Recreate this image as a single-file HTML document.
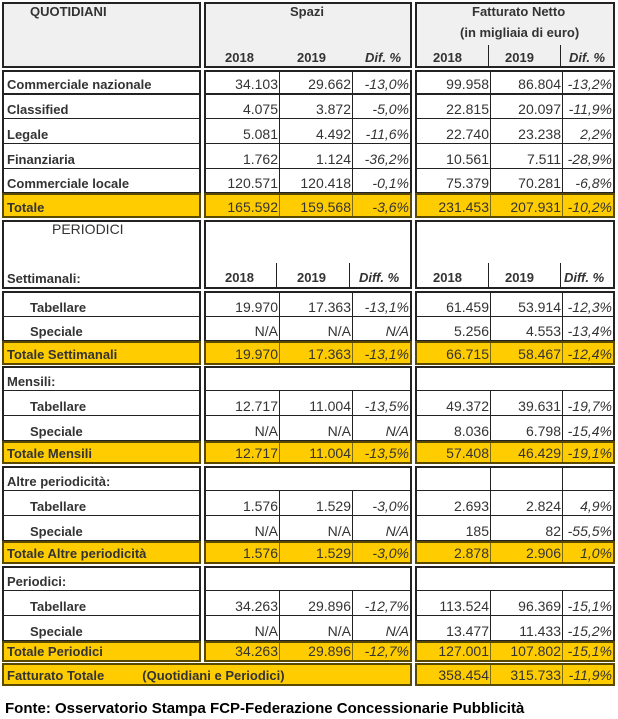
<!DOCTYPE html>
<html><head><meta charset="utf-8">
<style>
*{box-sizing:border-box;margin:0;padding:0}
body{width:618px;height:719px;background:#fff;position:relative;font-family:"Liberation Sans",Arial,sans-serif;color:#333;overflow:hidden}
.r{position:absolute;left:2px;width:614px;display:flex;gap:3px}
.l{width:199px;border:2px solid #222;border-top-width:1px;border-bottom-width:1px;font-weight:bold;font-size:13px;display:flex;align-items:flex-end;padding:0 0 1px 3px;white-space:nowrap}
.g{display:flex;border:2px solid #222;border-top-width:1px;border-bottom-width:1px}
.g1{width:208px}.g2{width:200px}
.g>*{border-left:1px solid #222;display:flex;align-items:flex-end;justify-content:flex-end;font-size:14px;padding:0 1px 1px 0;font-style:normal}
.g>*:first-child{border-left:none}
.g1>*:nth-child(1){width:73px}.g1>*:nth-child(2){width:73px}.g1>*:nth-child(3){width:58px}
.g2>*:nth-child(1){width:73px}.g2>*:nth-child(2){width:72px}.g2>*:nth-child(3){width:51px}
.g>i{font-style:italic}
.t .l,.t .g{background:#ffcc00;border-color:#5a4a00}
.t .g>*{border-color:#7a6a10}
.t .l{font-weight:bold;color:#333}
.ind{padding-left:26px}
.abs{position:absolute;font-size:13px;font-weight:bold}
.top .l,.top .g{border-top-width:2px}
.bot .l,.bot .g{border-bottom-width:2px}
</style></head><body>

<div class="r top bot" style="top:2px;height:66px">
 <div class="l" style="background:#f0f0f0"></div>
 <div class="g g1" style="background:#f0f0f0"></div>
 <div class="g g2" style="background:#f0f0f0"></div>
</div>
<div class="abs" style="left:30px;top:4px">QUOTIDIANI</div>
<div class="abs" style="left:290px;top:4px">Spazi</div>
<div class="abs" style="left:472px;top:4px">Fatturato Netto</div>
<div class="abs" style="left:460px;top:25px">(in migliaia di euro)</div>
<div class="abs" style="left:225px;top:50px">2018</div>
<div class="abs" style="left:297px;top:50px">2019</div>
<div class="abs" style="left:365px;top:50px;font-style:italic">Dif. %</div>
<div class="abs" style="left:433px;top:50px">2018</div>
<div class="abs" style="left:505px;top:50px">2019</div>
<div class="abs" style="left:569px;top:50px;font-style:italic">Dif. %</div>
<div style="position:absolute;left:488px;top:45px;width:1px;height:21px;background:#222"></div>
<div style="position:absolute;left:560px;top:45px;width:1px;height:21px;background:#222"></div>

<div class="r top" style="top:70px;height:24px"><div class="l">Commerciale nazionale</div><div class="g g1"><span>34.103</span><span>29.662</span><i>-13,0%</i></div><div class="g g2"><span>99.958</span><span>86.804</span><i>-13,2%</i></div></div>
<div class="r" style="top:94px;height:25px"><div class="l">Classified</div><div class="g g1"><span>4.075</span><span>3.872</span><i>-5,0%</i></div><div class="g g2"><span>22.815</span><span>20.097</span><i>-11,9%</i></div></div>
<div class="r" style="top:118px;height:26px"><div class="l">Legale</div><div class="g g1"><span>5.081</span><span>4.492</span><i>-11,6%</i></div><div class="g g2"><span>22.740</span><span>23.238</span><i>2,2%</i></div></div>
<div class="r" style="top:143px;height:26px"><div class="l">Finanziaria</div><div class="g g1"><span>1.762</span><span>1.124</span><i>-36,2%</i></div><div class="g g2"><span>10.561</span><span>7.511</span><i>-28,9%</i></div></div>
<div class="r" style="top:168px;height:25px"><div class="l">Commerciale locale</div><div class="g g1"><span>120.571</span><span>120.418</span><i>-0,1%</i></div><div class="g g2"><span>75.379</span><span>70.281</span><i>-6,8%</i></div></div>
<div class="r t top bot" style="top:193px;height:25px"><div class="l">Totale</div><div class="g g1"><span>165.592</span><span>159.568</span><i>-3,6%</i></div><div class="g g2"><span>231.453</span><span>207.931</span><i>-10,2%</i></div></div>

<div class="r top bot" style="top:220px;height:69px"><div class="l">Settimanali:</div><div class="g g1"></div><div class="g g2"></div></div>
<div class="abs" style="left:52px;top:221px;font-weight:normal;font-size:14px">PERIODICI</div>
<div class="abs" style="left:225px;top:270px">2018</div>
<div class="abs" style="left:297px;top:270px">2019</div>
<div class="abs" style="left:359px;top:270px;font-style:italic">Diff. %</div>
<div class="abs" style="left:433px;top:270px">2018</div>
<div class="abs" style="left:505px;top:270px">2019</div>
<div class="abs" style="left:564px;top:270px;font-style:italic">Diff. %</div>
<div style="position:absolute;left:276px;top:263px;width:1px;height:24px;background:#222"></div>
<div style="position:absolute;left:349px;top:263px;width:1px;height:24px;background:#222"></div>
<div style="position:absolute;left:488px;top:263px;width:1px;height:24px;background:#222"></div>
<div style="position:absolute;left:560px;top:263px;width:1px;height:24px;background:#222"></div>

<div class="r top" style="top:291px;height:26px"><div class="l ind">Tabellare</div><div class="g g1"><span>19.970</span><span>17.363</span><i>-13,1%</i></div><div class="g g2"><span>61.459</span><span>53.914</span><i>-12,3%</i></div></div>
<div class="r" style="top:316px;height:25px"><div class="l ind">Speciale</div><div class="g g1"><span>N/A</span><span>N/A</span><i>N/A</i></div><div class="g g2"><span>5.256</span><span>4.553</span><i>-13,4%</i></div></div>
<div class="r t top bot" style="top:341px;height:24px"><div class="l">Totale Settimanali</div><div class="g g1"><span>19.970</span><span>17.363</span><i>-13,1%</i></div><div class="g g2"><span>66.715</span><span>58.467</span><i>-12,4%</i></div></div>

<div class="r top" style="top:366px;height:25px"><div class="l">Mensili:</div><div class="g g1"></div><div class="g g2"></div></div>
<div class="r" style="top:390px;height:26px"><div class="l ind">Tabellare</div><div class="g g1"><span>12.717</span><span>11.004</span><i>-13,5%</i></div><div class="g g2"><span>49.372</span><span>39.631</span><i>-19,7%</i></div></div>
<div class="r" style="top:415px;height:26px"><div class="l ind">Speciale</div><div class="g g1"><span>N/A</span><span>N/A</span><i>N/A</i></div><div class="g g2"><span>8.036</span><span>6.798</span><i>-15,4%</i></div></div>
<div class="r t top bot" style="top:441px;height:23px"><div class="l">Totale Mensili</div><div class="g g1"><span>12.717</span><span>11.004</span><i>-13,5%</i></div><div class="g g2"><span>57.408</span><span>46.429</span><i>-19,1%</i></div></div>

<div class="r top" style="top:466px;height:25px"><div class="l">Altre periodicità:</div><div class="g g1"></div><div class="g g2"><span></span><span></span><i></i></div></div>
<div class="r" style="top:490px;height:26px"><div class="l ind">Tabellare</div><div class="g g1"><span>1.576</span><span>1.529</span><i>-3,0%</i></div><div class="g g2"><span>2.693</span><span>2.824</span><i>4,9%</i></div></div>
<div class="r" style="top:515px;height:26px"><div class="l ind">Speciale</div><div class="g g1"><span>N/A</span><span>N/A</span><i>N/A</i></div><div class="g g2"><span>185</span><span>82</span><i>-55,5%</i></div></div>
<div class="r t top bot" style="top:541px;height:23px"><div class="l">Totale Altre periodicità</div><div class="g g1"><span>1.576</span><span>1.529</span><i>-3,0%</i></div><div class="g g2"><span>2.878</span><span>2.906</span><i>1,0%</i></div></div>

<div class="r top" style="top:566px;height:25px"><div class="l">Periodici:</div><div class="g g1"></div><div class="g g2"></div></div>
<div class="r" style="top:590px;height:26px"><div class="l ind">Tabellare</div><div class="g g1"><span>34.263</span><span>29.896</span><i>-12,7%</i></div><div class="g g2"><span>113.524</span><span>96.369</span><i>-15,1%</i></div></div>
<div class="r" style="top:615px;height:26px"><div class="l ind">Speciale</div><div class="g g1"><span>N/A</span><span>N/A</span><i>N/A</i></div><div class="g g2"><span>13.477</span><span>11.433</span><i>-15,2%</i></div></div>
<div class="r t top bot" style="top:641px;height:21px"><div class="l">Totale Periodici</div><div class="g g1"><span>34.263</span><span>29.896</span><i>-12,7%</i></div><div class="g g2"><span>127.001</span><span>107.802</span><i>-15,1%</i></div></div>
<div class="r t top bot" style="top:663px;height:23px"><div class="l" style="width:410px">Fatturato Totale<span style="margin-left:38px">(Quotidiani e Periodici)</span></div><div class="g g2"><span>358.454</span><span>315.733</span><i>-11,9%</i></div></div>

<div class="abs" style="left:5px;top:700px;color:#000;font-size:15px">Fonte: Osservatorio Stampa FCP-Federazione Concessionarie Pubblicità</div>
</body></html>
